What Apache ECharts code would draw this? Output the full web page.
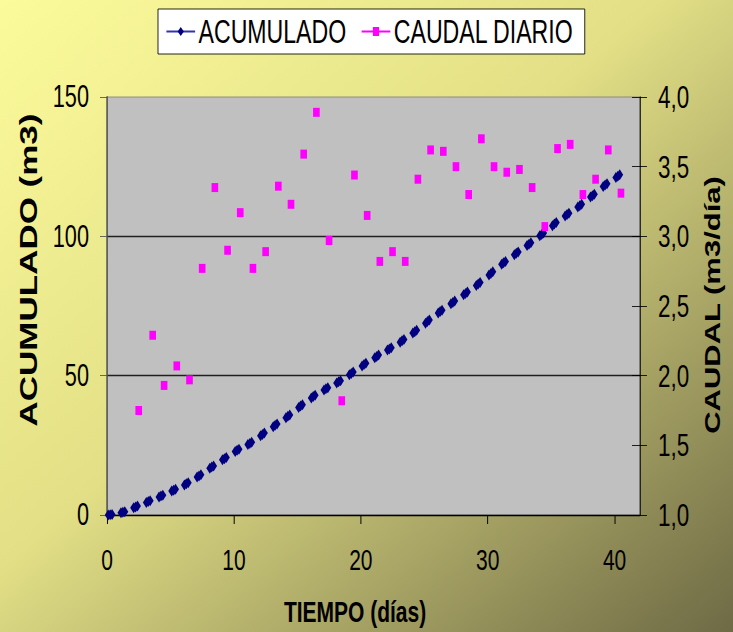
<!DOCTYPE html>
<html>
<head>
<meta charset="utf-8">
<script src="https://cdn.jsdelivr.net/npm/echarts@6/dist/echarts.min.js"></script>
<style>
  html, body { margin: 0; padding: 0; overflow: hidden; width: 733px; height: 632px; }
  /* the chart is laid out on a wider canvas and squeezed horizontally */
  #chart { width: 1047px; height: 632px; transform: scaleX(0.70010); transform-origin: 0 0; }
</style>
</head>
<body>
<div id="chart"></div>
<script>
// Cumulative volume readings (m3): several readings per day
const tiempoAcum = [
  0.1, 0.25, 0.4, 1.1, 1.25, 1.4, 2.1, 2.25, 2.4, 3.1, 3.25, 3.4,
  4.1, 4.25, 4.4, 5.1, 5.25, 5.4, 6.1, 6.25, 6.4, 7.1, 7.25, 7.4,
  8.1, 8.25, 8.4, 9.1, 9.25, 9.4, 10.1, 10.25, 10.4, 11.1, 11.25, 11.4,
  12.1, 12.25, 12.4, 13.1, 13.25, 13.4, 14.1, 14.25, 14.4, 15.1, 15.25, 15.4,
  16.1, 16.25, 16.4, 17.1, 17.25, 17.4, 18.1, 18.25, 18.4, 19.1, 19.25, 19.4,
  20.1, 20.25, 20.4, 21.1, 21.25, 21.4, 22.1, 22.25, 22.4, 23.1, 23.25, 23.4,
  24.1, 24.25, 24.4, 25.1, 25.25, 25.4, 26.1, 26.25, 26.4, 27.1, 27.25, 27.4,
  28.1, 28.25, 28.4, 29.1, 29.25, 29.4, 30.1, 30.25, 30.4, 31.1, 31.25, 31.4,
  32.1, 32.25, 32.4, 33.1, 33.25, 33.4, 34.1, 34.25, 34.4, 35.1, 35.25, 35.4,
  36.1, 36.25, 36.4, 37.1, 37.25, 37.4, 38.1, 38.25, 38.4, 39.1, 39.25, 39.4,
  40.1, 40.25, 40.4
];
const acumulado = [
  0.0, 0.1, 0.2, 0.8, 1.0, 1.2, 2.6, 2.9, 3.2, 4.5, 4.8, 5.1,
  6.5, 6.8, 7.1, 8.6, 8.9, 9.2, 10.8, 11.2, 11.6, 13.6, 14.0, 14.4,
  16.8, 17.2, 17.6, 19.8, 20.2, 20.6, 22.8, 23.2, 23.6, 25.3, 25.7, 26.1,
  28.4, 28.9, 29.4, 31.7, 32.2, 32.7, 34.9, 35.4, 35.9, 38.6, 39.1, 39.6,
  42.0, 42.5, 43.0, 44.9, 45.3, 45.7, 47.4, 47.8, 48.2, 50.3, 50.8, 51.3,
  53.5, 54.0, 54.5, 56.4, 56.9, 57.4, 59.2, 59.6, 60.0, 62.0, 62.5, 63.0,
  65.3, 65.8, 66.3, 68.8, 69.4, 70.0, 72.5, 73.0, 73.5, 75.8, 76.3, 76.8,
  79.0, 79.5, 80.0, 82.4, 82.9, 83.4, 86.1, 86.7, 87.3, 90.0, 90.5, 91.0,
  93.4, 93.9, 94.4, 96.7, 97.2, 97.7, 100.2, 100.7, 101.2, 103.8, 104.4, 105.0,
  107.3, 107.8, 108.3, 110.5, 111.0, 111.5, 114.1, 114.6, 115.1, 117.9, 118.4, 118.9,
  121.1, 121.6, 122.1
];

// Daily flow (m3/día)
const diasCaudal = [
  2.5, 3.6, 4.5, 5.5, 6.5, 7.5, 8.5, 9.5, 10.5, 11.5, 12.5, 13.5, 14.5,
  15.5, 16.5, 17.5, 18.5, 19.5, 20.5, 21.5, 22.5, 23.5, 24.5, 25.5, 26.5,
  27.5, 28.5, 29.5, 30.5, 31.5, 32.5, 33.5, 34.5, 35.5, 36.5, 37.5, 38.5,
  39.5, 40.5
];
const caudalDiario = [
  1.75, 2.29, 1.93, 2.07, 1.97, 2.77, 3.35, 2.90, 3.17, 2.77, 2.89, 3.36, 3.23,
  3.59, 3.89, 2.97, 1.82, 3.44, 3.15, 2.82, 2.89, 2.82, 3.41, 3.62, 3.61,
  3.50, 3.30, 3.70, 3.50, 3.46, 3.48, 3.35, 3.07, 3.63, 3.66, 3.30, 3.41,
  3.62, 3.31
];

const xTicks = [0, 10, 20, 30, 40];
const serieNames = ['ACUMULADO', 'CAUDAL DIARIO'];
const titulos = { x: 'TIEMPO (días)', yLeft: 'ACUMULADO (m3)', yRight: 'CAUDAL (m3/día)' };

const FONT = '"Liberation Sans", Arial, Helvetica, sans-serif';
const SX = 733 / 1047;           // horizontal squeeze applied by CSS
const ux = px => px / SX;        // screen x -> layout x

const chart = echarts.init(document.getElementById('chart'), null, { renderer: 'svg' });

chart.setOption({
  animation: false,
  backgroundColor: {
    type: 'linear', x: 0, y: 0, x2: 1, y2: 1,
    colorStops: [
      { offset: 0, color: '#fcfb9b' },
      { offset: 0.45, color: '#e2df86' },
      { offset: 1, color: '#6e6a45' }
    ]
  },
  legend: {
    left: ux(158), top: 9,
    padding: [6, 16, 6, 11],
    backgroundColor: '#ffffff',
    borderColor: '#000000', borderWidth: 1,
    itemWidth: 41, itemHeight: 11, itemGap: 21,
    textStyle: { fontFamily: FONT, fontSize: 33, color: '#000' },
    data: [
      { name: serieNames[0], lineStyle: { opacity: 1, width: 2, color: '#3333aa' } },
      { name: serieNames[1], lineStyle: { opacity: 1, width: 2, color: '#ff00ff' } }
    ]
  },
  grid: {
    left: ux(107), right: 1047 - ux(640), top: 97, bottom: 117,
    show: true, backgroundColor: '#c0c0c0', borderColor: '#808080', borderWidth: 1
  },
  xAxis: {
    type: 'value', min: 0, max: 42, interval: 10,
    axisLine: { show: true, onZero: false, lineStyle: { color: '#000', width: 1.4 } },
    axisTick: { show: true, inside: false, length: 9, customValues: xTicks, lineStyle: { color: '#000', width: 1.4 } },
    axisLabel: { customValues: xTicks, margin: 30, fontFamily: FONT, fontSize: 30, color: '#000' },
    splitLine: { show: false }
  },
  yAxis: [
    {
      type: 'value', position: 'left', min: 0, max: 150, interval: 50,
      axisLine: { show: true, lineStyle: { color: '#505050', width: 2 } },
      axisTick: { show: true, inside: false, length: ux(7), lineStyle: { color: '#505050' } },
      axisLabel: { margin: ux(18), fontFamily: FONT, fontSize: 31, color: '#000' },
      splitLine: { show: true, showMinLine: false, showMaxLine: false, lineStyle: { color: '#202020', width: 1.4 } }
    },
    {
      type: 'value', position: 'right', min: 1, max: 4, interval: 0.5,
      axisLine: { show: true, lineStyle: { color: '#000', width: 1.4 } },
      axisTick: { show: true, inside: false, length: ux(7), lineStyle: { color: '#000' } },
      axisLabel: {
        margin: ux(18), fontFamily: FONT, fontSize: 32, color: '#000',
        formatter: v => v.toFixed(1).replace('.', ',')
      },
      splitLine: { show: false }
    },
    {
      // inner half of the crossing ticks on the right-hand axis
      type: 'value', position: 'right', min: 1, max: 4, interval: 0.5,
      axisLine: { show: false },
      axisTick: { show: true, inside: true, length: ux(8), lineStyle: { color: '#000' } },
      axisLabel: { show: false },
      splitLine: { show: false }
    }
  ],
  series: [
    {
      name: serieNames[0], type: 'line', xAxisIndex: 0, yAxisIndex: 0,
      data: tiempoAcum.map((t, i) => [t, acumulado[i]]),
      symbol: 'diamond', symbolSize: [10, 11], showSymbol: true,
      itemStyle: { color: '#000080' },
      lineStyle: { opacity: 0, width: 0, color: '#000080' },
      z: 3
    },
    {
      name: serieNames[1], type: 'line', xAxisIndex: 0, yAxisIndex: 1,
      data: diasCaudal.map((t, i) => [t, caudalDiario[i]]),
      symbol: 'rect', symbolSize: [9.5, 9], showSymbol: true,
      itemStyle: { color: '#ff00ff' },
      lineStyle: { opacity: 0, width: 0, color: '#ff00ff' },
      z: 4
    }
  ],
  graphic: [
    {
      type: 'text', x: ux(28), y: 270, rotation: Math.PI / 2,
      style: { text: titulos.yLeft, fill: '#000', align: 'center', verticalAlign: 'middle',
               font: 'bold 35px ' + FONT }
    },
    {
      type: 'text', x: ux(713), y: 305, rotation: Math.PI / 2,
      style: { text: titulos.yRight, fill: '#000', align: 'center', verticalAlign: 'middle',
               font: 'bold 31px ' + FONT }
    },
    {
      type: 'text', x: ux(355), y: 612,
      style: { text: titulos.x, fill: '#000', align: 'center', verticalAlign: 'middle',
               font: 'bold 30px ' + FONT }
    }
  ]
});
</script>
</body>
</html>
